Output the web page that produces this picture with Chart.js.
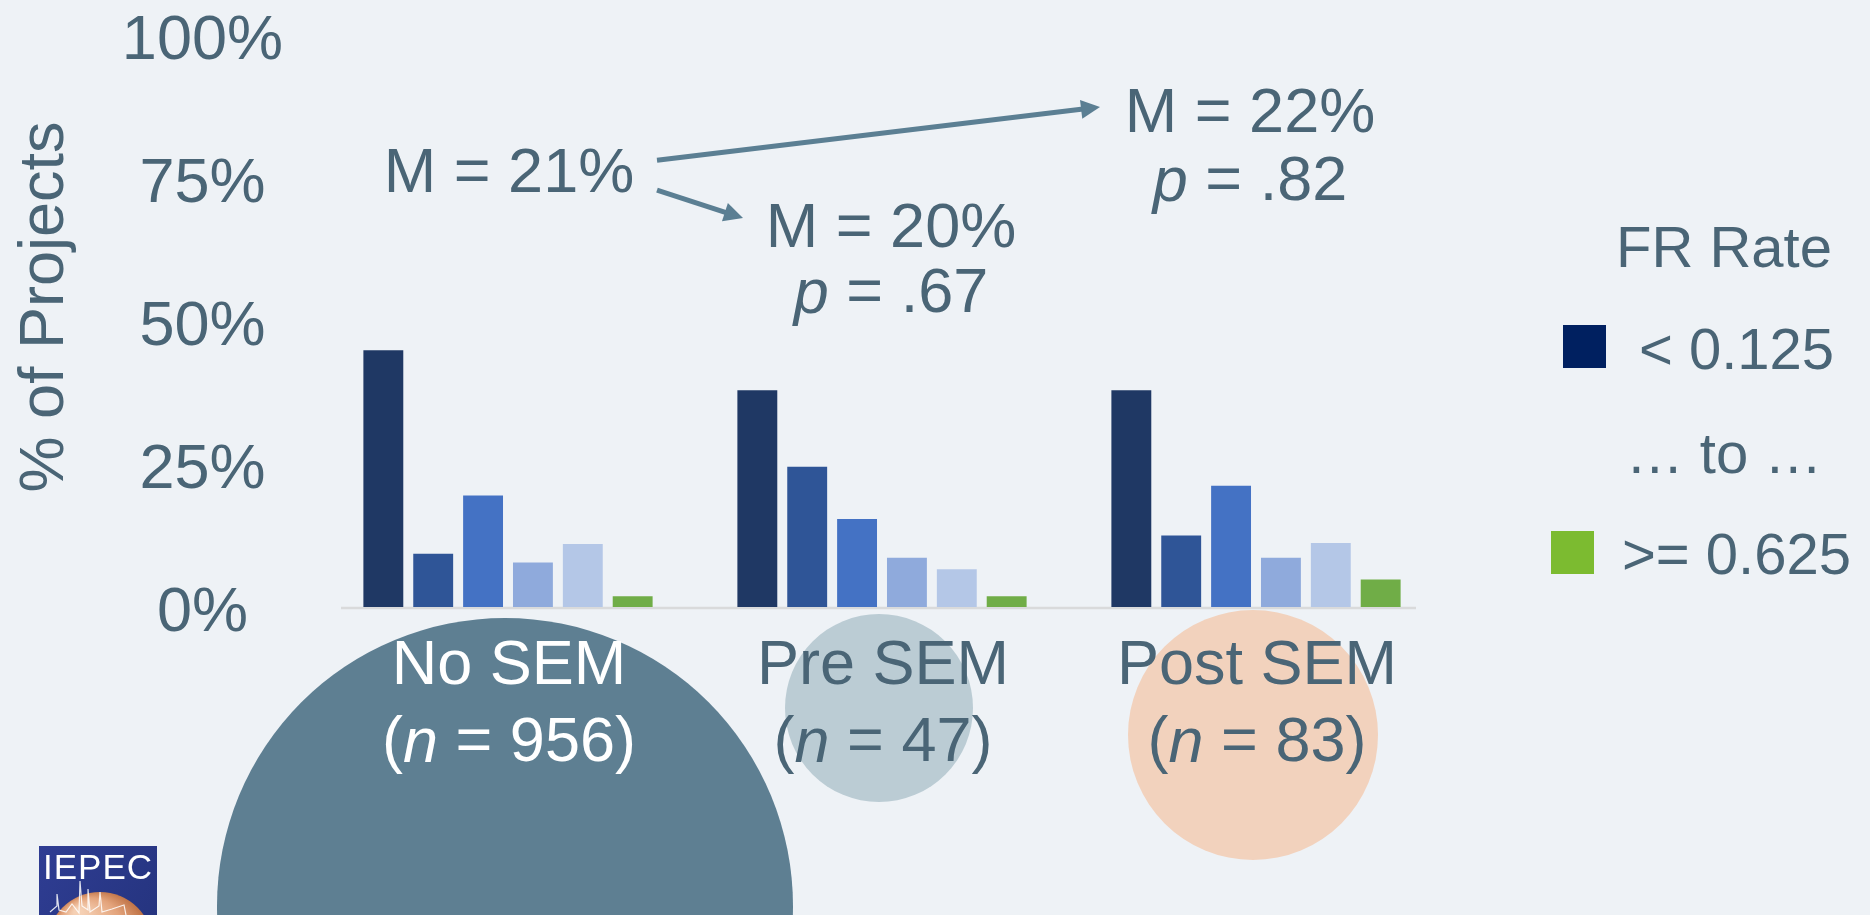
<!DOCTYPE html>
<html>
<head>
<meta charset="utf-8">
<title>FR Rate by SEM status</title>
<script src="https://cdn.jsdelivr.net/npm/chart.js@4.4.1/dist/chart.umd.min.js"></script>
<style>
  html, body { margin: 0; padding: 0; background: #eef2f6; }
  canvas { display: block; }
</style>
</head>
<body>
<canvas id="chart" width="1870" height="915"></canvas>
<script>
// ---- data -------------------------------------------------------------
const groups = ['No SEM', 'Pre SEM', 'Post SEM'];
const groupN = [956, 47, 83];
const rateBins = ['< 0.125', '0.125 – 0.25', '0.25 – 0.375', '0.375 – 0.5', '0.5 – 0.625', '>= 0.625'];
// share of projects (%) in each free-ridership bin, per group
const binBelow0125 = [44.9, 37.9, 37.9];
const bin0125to025 = [9.3, 24.5, 12.5];
const bin025to0375 = [19.5, 15.4, 21.2];
const bin0375to05 = [7.8, 8.6, 8.6];
const bin05to0625 = [11.0, 6.6, 11.2];
const binAbove0625 = [1.9, 1.9, 4.8];
const yTicks = [0, 25, 50, 75, 100];
const yTitle = '% of Projects';
const meanRate = [21, 20, 22];
const pValue = [null, '.67', '.82'];
const legendTitle = 'FR Rate';
const legendRows = ['< 0.125', '… to …', '>= 0.625'];

// ---- styles -----------------------------------------------------------
const FONT = '"Liberation Sans", Arial, sans-serif';
const INK = '#4a6576';
const ARROW = '#5b7f93';
const TEXT_SHIFT = 5;   // glyph centring nudge for middle-baseline text
const barColors = ['#1f3864', '#2f5597', '#4472c4', '#8faadc', '#b4c7e7', '#70ad47'];
const legendSwatch = ['#002060', null, '#7cbb30'];
// circle behind each group label: offset from category centre / baseline, radius, colours
const groupDisc = [
  { dx: -3, dy: 299, r: 288, fill: '#5e7f92', text: '#ffffff' },
  { dx: -3, dy: 101, r: 94, fill: '#bbccd4', text: INK },
  { dx: -3, dy: 128, r: 125, fill: '#f2d2bd', text: INK }
];
// anchor of the mean / p annotations (category index, pixel nudge, y value)
const meanPos = [
  { cat: 0, dx: 1, v: 76.4 },
  { cat: 1, dx: 9, v: 66.8 },
  { cat: 2, dx: -6, v: 86.9 }
];
const pPos = [null, { cat: 1, dx: 9, v: 55.4 }, { cat: 2, dx: -6, v: 75.0 }];
const arrows = [
  { from: { cat: 0, dx: 149, v: 78.1 }, to: { cat: 2, dx: -156, v: 87.4 } },
  { from: { cat: 0, dx: 149, v: 72.9 }, to: { cat: 1, dx: -139, v: 68.0 } }
];

function px(chart, p) {
  return {
    x: chart.scales.x.getPixelForValue(p.cat) + p.dx,
    y: chart.scales.y.getPixelForValue(p.v)
  };
}

// text made of runs, some italic, centred on cx
function drawRuns(ctx, runs, cx, y, size, color) {
  ctx.save();
  ctx.fillStyle = color;
  ctx.textBaseline = 'middle';
  ctx.textAlign = 'left';
  let total = 0;
  runs.forEach(r => {
    ctx.font = (r.i ? 'italic ' : '') + size + 'px ' + FONT;
    r.w = ctx.measureText(r.t).width;
    total += r.w;
  });
  let x = cx - total / 2;
  runs.forEach(r => {
    ctx.font = (r.i ? 'italic ' : '') + size + 'px ' + FONT;
    ctx.fillText(r.t, x, y + TEXT_SHIFT);
    x += r.w;
  });
  ctx.restore();
}

function drawArrow(ctx, a, b) {
  const ang = Math.atan2(b.y - a.y, b.x - a.x);
  const head = 19, half = 9.5;
  const ex = b.x - Math.cos(ang) * head, ey = b.y - Math.sin(ang) * head;
  ctx.save();
  ctx.strokeStyle = ARROW;
  ctx.fillStyle = ARROW;
  ctx.lineWidth = 5;
  ctx.beginPath();
  ctx.moveTo(a.x, a.y);
  ctx.lineTo(ex + Math.cos(ang) * 2, ey + Math.sin(ang) * 2);
  ctx.stroke();
  ctx.beginPath();
  ctx.moveTo(b.x, b.y);
  ctx.lineTo(ex + Math.sin(ang) * half, ey - Math.cos(ang) * half);
  ctx.lineTo(ex - Math.sin(ang) * half, ey + Math.cos(ang) * half);
  ctx.closePath();
  ctx.fill();
  ctx.restore();
}

function drawLogo(ctx) {
  const x = 39, y = 846, w = 118, h = 75;
  ctx.save();
  ctx.beginPath();
  ctx.rect(x, y, w, h);
  ctx.clip();
  const bg = ctx.createLinearGradient(x, y, x + w, y + h);
  bg.addColorStop(0, '#2f3d93');
  bg.addColorStop(1, '#25347f');
  ctx.fillStyle = bg;
  ctx.fillRect(x, y, w, h);
  const g = ctx.createRadialGradient(78, 912, 4, 100, 945, 56);
  g.addColorStop(0, '#f5d0b4');
  g.addColorStop(0.55, '#e3a37b');
  g.addColorStop(1, '#b96a3c');
  ctx.fillStyle = g;
  ctx.beginPath();
  ctx.arc(100, 945, 53, 0, Math.PI * 2);
  ctx.fill();
  ctx.strokeStyle = 'rgba(255,255,255,0.85)';
  ctx.lineWidth = 1.2;
  ctx.beginPath();
  const trace = [[50, 912], [57, 906], [57, 894], [59, 910], [66, 912], [72, 904], [79, 913], [80, 881],
    [82, 906], [88, 910], [88, 889], [90, 912], [99, 906], [100, 892], [102, 912], [112, 909], [124, 905], [126, 915]];
  trace.forEach((p, i) => i ? ctx.lineTo(p[0], p[1]) : ctx.moveTo(p[0], p[1]));
  ctx.stroke();
  ctx.fillStyle = '#ffffff';
  ctx.font = '35px ' + FONT;
  ctx.textBaseline = 'alphabetic';
  ctx.textAlign = 'left';
  ctx.letterSpacing = '1px';
  ctx.fillText('IEPEC', 43, 879);
  ctx.restore();
}

const overlay = {
  id: 'overlay',
  beforeDatasetsDraw(chart) {
    const { ctx, chartArea } = chart;
    const y0 = chart.scales.y.getPixelForValue(0);
    ctx.save();
    ctx.strokeStyle = '#d9dadb';
    ctx.lineWidth = 2.5;
    ctx.beginPath();
    ctx.moveTo(chartArea.left + 20, y0 + 1);
    ctx.lineTo(chartArea.right - 27, y0 + 1);
    ctx.stroke();
    ctx.restore();
  },
  afterDraw(chart) {
    const { ctx } = chart;
    const xs = chart.scales.x;
    const ys = chart.scales.y;
    const y0 = ys.getPixelForValue(0);

    // rotated value-axis title
    ctx.save();
    ctx.translate(46, (ys.getPixelForValue(100) + y0) / 2 - 14);
    ctx.rotate(-Math.PI / 2);
    ctx.fillStyle = INK;
    ctx.font = '63px ' + FONT;
    ctx.textAlign = 'center';
    ctx.textBaseline = 'middle';
    ctx.fillText(yTitle, 0, 0);
    ctx.restore();

    // sample-size discs and group labels
    groups.forEach((name, i) => {
      const d = groupDisc[i];
      const cx = xs.getPixelForValue(i);
      ctx.save();
      ctx.fillStyle = d.fill;
      ctx.beginPath();
      ctx.arc(cx + d.dx, y0 + d.dy, d.r, 0, Math.PI * 2);
      ctx.fill();
      ctx.restore();
    });
    groups.forEach((name, i) => {
      const d = groupDisc[i];
      const cx = xs.getPixelForValue(i);
      drawRuns(ctx, [{ t: name }], cx + 1, y0 + 55, 63, d.text);
      drawRuns(ctx, [{ t: '(' }, { t: 'n', i: true }, { t: ' = ' + groupN[i] + ')' }], cx + 1, y0 + 132, 63, d.text);
    });

    // means, p-values and arrows
    meanPos.forEach((p, i) => {
      const q = px(chart, p);
      drawRuns(ctx, [{ t: 'M = ' + meanRate[i] + '%' }], q.x, q.y, 63, INK);
      if (pValue[i] !== null) {
        const r = px(chart, pPos[i]);
        drawRuns(ctx, [{ t: 'p', i: true }, { t: ' = ' + pValue[i] }], r.x, r.y, 63, INK);
      }
    });
    arrows.forEach(a => drawArrow(ctx, px(chart, a.from), px(chart, a.to)));

    // legend
    ctx.save();
    ctx.fillStyle = INK;
    ctx.textBaseline = 'middle';
    ctx.font = '58px ' + FONT;
    ctx.textAlign = 'center';
    ctx.fillText(legendTitle, 1724, 246 + TEXT_SHIFT);
    const rows = [
      { box: [1563, 325], tx: 1639, y: 348, align: 'left' },
      { box: null, tx: 1724, y: 452, align: 'center' },
      { box: [1551, 531], tx: 1622, y: 553, align: 'left' }
    ];
    rows.forEach((r, k) => {
      if (r.box) {
        ctx.fillStyle = legendSwatch[k];
        ctx.fillRect(r.box[0], r.box[1], 43, 43);
      }
      ctx.fillStyle = INK;
      ctx.textAlign = r.align;
      ctx.fillText(legendRows[k], r.tx, r.y + TEXT_SHIFT);
    });
    ctx.restore();

    drawLogo(ctx);
  }
};

const series = [binBelow0125, bin0125to025, bin025to0375, bin0375to05, bin05to0625, binAbove0625];

new Chart(document.getElementById('chart'), {
  type: 'bar',
  data: {
    labels: groups,
    datasets: series.map((d, k) => ({
      label: rateBins[k],
      data: d,
      backgroundColor: barColors[k],
      borderWidth: 0,
      categoryPercentage: 0.8,
      barPercentage: 0.8
    }))
  },
  options: {
    responsive: false,
    animation: false,
    devicePixelRatio: 1,
    layout: { padding: { left: 0, top: 35, right: 427, bottom: 308 } },
    plugins: {
      legend: { display: false },
      tooltip: { enabled: false },
      title: { display: false }
    },
    scales: {
      x: { display: false },
      y: {
        min: 0,
        max: 100,
        afterBuildTicks(scale) { scale.ticks = yTicks.map(v => ({ value: v })); },
        afterFit(scale) { scale.width = 321; },
        grid: { display: false, drawTicks: true, tickLength: 38 },
        border: { display: false },
        ticks: {
          padding: 0,
          crossAlign: 'center',
          labelOffset: 7,
          color: INK,
          font: { family: FONT, size: 63, lineHeight: 1 },
          callback: v => v + '%'
        },
        title: { display: false }
      }
    }
  },
  plugins: [overlay]
});
</script>
</body>
</html>
